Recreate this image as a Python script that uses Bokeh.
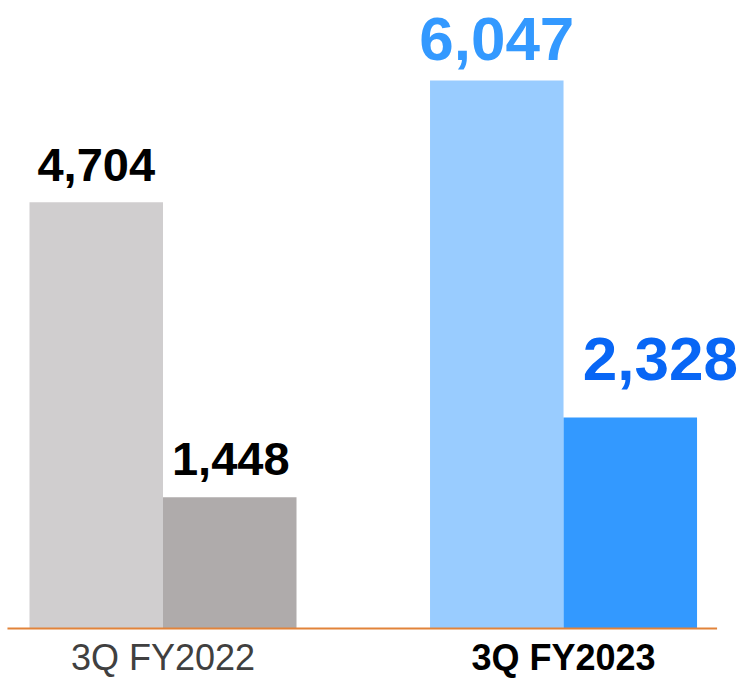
from bokeh.plotting import figure
from bokeh.models import ColumnDataSource, Range1d
from bokeh.core.properties import value
from bokeh.embed import file_html
from bokeh.resources import INLINE

# ---- data ----
categories = ["3Q FY2022", "3Q FY2023"]
prior_values = [4704, 6047]      # first bar of each group
current_values = [1448, 2328]    # second bar of each group

# ---- styles ----
bar_a_colors = ["#D0CECF", "#99CCFF"]
bar_b_colors = ["#AFABAB", "#3399FF"]
label_a_colors = ["#000000", "#3399FF"]
label_b_colors = ["#000000", "#0866F5"]
label_a_sizes = ["47px", "62px"]
label_b_sizes = ["47px", "62px"]
label_b_xoff = [1, 30]
label_a_yoff = [-37, -42]
label_b_yoff = [-38, -58]
cat_colors = ["#404040", "#000000"]
cat_styles = ["normal", "bold"]

group_step = 3
xa = [i * group_step + 0.5 for i in range(len(categories))]
xb = [i * group_step + 1.5 for i in range(len(categories))]
xc = [i * group_step + 1.0 for i in range(len(categories))]

W, H = 739, 678
p = figure(width=W, height=H, output_backend="svg", toolbar_location=None,
           x_range=Range1d(-0.2172, 5.318), y_range=Range1d(-553, 6930),
           min_border=0, min_border_left=0, min_border_right=0,
           min_border_top=0, min_border_bottom=0)
p.axis.visible = False
p.grid.visible = False
p.outline_line_color = None
p.background_fill_color = "white"
p.border_fill_color = "white"

src_a = ColumnDataSource(dict(x=xa, top=prior_values, color=bar_a_colors,
                              label=[f"{v:,}" for v in prior_values],
                              lc=label_a_colors, fs=label_a_sizes, yo=label_a_yoff))
src_b = ColumnDataSource(dict(x=xb, top=current_values, color=bar_b_colors,
                              label=[f"{v:,}" for v in current_values],
                              lc=label_b_colors, fs=label_b_sizes, yo=label_b_yoff,
                              xo=label_b_xoff))
src_c = ColumnDataSource(dict(x=xc, y=[0] * len(categories), label=categories,
                              color=cat_colors, style=cat_styles))

p.vbar(x="x", top="top", bottom=0, width=1.0, fill_color="color",
       line_color=None, source=src_a)
p.vbar(x="x", top="top", bottom=0, width=1.0, fill_color="color",
       line_color=None, source=src_b)

# baseline
p.segment(x0=[-0.165], y0=[0], x1=[5.15], y1=[0], line_color="#E2833A", line_width=2)

p.text(x="x", y="top", text="label", source=src_a, text_align="center",
       text_baseline="middle", text_color="lc", text_font_size="fs",
       text_font=value("Liberation Sans"), text_font_style="bold", y_offset="yo")
p.text(x="x", y="top", text="label", source=src_b, text_align="center",
       text_baseline="middle", text_color="lc", text_font_size="fs",
       text_font=value("Liberation Sans"), text_font_style="bold",
       y_offset="yo", x_offset="xo")
p.text(x="x", y="y", text="label", source=src_c, text_align="center",
       text_baseline="middle", text_color="color", text_font_size="36px",
       text_font=value("Liberation Sans"), text_font_style="style", y_offset=29)

open("out.html", "w").write(file_html(p, INLINE))
